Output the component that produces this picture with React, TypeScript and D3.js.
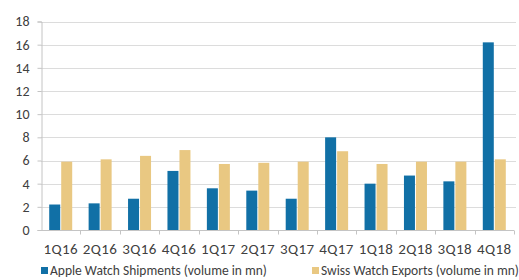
import { useEffect, useRef } from "react";
import * as d3 from "d3";

const quarters = ["1Q16", "2Q16", "3Q16", "4Q16", "1Q17", "2Q17", "3Q17", "4Q17", "1Q18", "2Q18", "3Q18", "4Q18"];
const appleShipments = [2.2, 2.3, 2.7, 5.1, 3.6, 3.4, 2.7, 8.0, 4.0, 4.7, 4.2, 16.2];
const swissExports = [5.9, 6.1, 6.4, 6.9, 5.7, 5.8, 5.9, 6.8, 5.7, 5.9, 5.9, 6.1];
const yTicks = [0, 2, 4, 6, 8, 10, 12, 14, 16, 18];
const seriesNames = ["Apple Watch Shipments (volume in mn)", "Swiss Watch Exports (volume in mn)"];

const BLUE = "#1170a6";
const GOLD = "#e9c882";
const FONT = "Carlito, 'Liberation Sans', Arial, sans-serif";

export default function App() {
  const svgRef = useRef<SVGSVGElement>(null);

  useEffect(() => {
    if (!svgRef.current) return;
    const svg = d3.select(svgRef.current);
    svg.selectAll("*").remove();

    const left = 41, right = 514, top = 21.5, bottom = 230;

    const x = d3.scaleBand().domain(quarters).range([left, right]).padding(0);
    const y = d3.scaleLinear().domain([0, 18]).range([bottom, top]);

    // gridlines
    svg.append("g")
      .selectAll("line")
      .data(yTicks.filter(t => t > 0))
      .enter()
      .append("line")
      .attr("x1", left)
      .attr("x2", 516)
      .attr("y1", d => Math.round(y(d)) + 0.5)
      .attr("y2", d => Math.round(y(d)) + 0.5)
      .attr("stroke", "#dcdcdc")
      .attr("stroke-width", 1);

    // y axis
    const yAxis = svg.append("g")
      .attr("transform", `translate(${left + 0.5},0)`)
      .call(d3.axisLeft(y).tickValues(yTicks).tickSize(4).tickPadding(8).tickFormat(d3.format("d")));
    yAxis.select(".domain").attr("stroke", "#c4c4c4");
    yAxis.selectAll(".tick line").attr("stroke", "#c4c4c4");
    yAxis.selectAll("text")
      .style("font-family", FONT)
      .style("font-size", "14px")
      .attr("fill", "#404040");

    const barW = 11;
    const gap = 1;
    const off = (x.bandwidth() - (barW * 2 + gap)) / 2;

    svg.append("g")
      .selectAll("rect")
      .data(quarters)
      .enter()
      .append("rect")
      .attr("x", d => (x(d) || 0) + off)
      .attr("width", barW)
      .attr("y", (d, i) => y(appleShipments[i]))
      .attr("height", (d, i) => bottom - y(appleShipments[i]))
      .attr("fill", BLUE);

    svg.append("g")
      .selectAll("rect")
      .data(quarters)
      .enter()
      .append("rect")
      .attr("x", d => (x(d) || 0) + off + barW + gap)
      .attr("width", barW)
      .attr("y", (d, i) => y(swissExports[i]))
      .attr("height", (d, i) => bottom - y(swissExports[i]))
      .attr("fill", GOLD);

    // x axis
    const xAxisG = svg.append("g").attr("transform", `translate(0,${bottom + 0.5})`);
    xAxisG.append("line")
      .attr("x1", left).attr("x2", right)
      .attr("stroke", "#c4c4c4");
    xAxisG.selectAll(".tk")
      .data(quarters.slice(1).concat(["end"]))
      .enter()
      .append("line")
      .attr("class", "tk")
      .attr("x1", (d, i) => Math.round(left + x.step() * (i + 1)) + 0.5)
      .attr("x2", (d, i) => Math.round(left + x.step() * (i + 1)) + 0.5)
      .attr("y1", 0)
      .attr("y2", 4)
      .attr("stroke", "#c4c4c4");
    xAxisG.selectAll(".lbl")
      .data(quarters)
      .enter()
      .append("text")
      .attr("class", "lbl")
      .attr("x", d => (x(d) || 0) + x.bandwidth() / 2)
      .attr("y", 23)
      .attr("text-anchor", "middle")
      .style("font-family", FONT)
      .style("font-size", "15px")
      .style("letter-spacing", "0.4px")
      .attr("fill", "#404040")
      .text(d => d);

    // legend
    const legendX = [41, 312];
    const legendColors = [BLUE, GOLD];
    const lg = svg.append("g");
    seriesNames.forEach((name, i) => {
      lg.append("rect")
        .attr("x", legendX[i])
        .attr("y", 267)
        .attr("width", 7)
        .attr("height", 7)
        .attr("fill", legendColors[i]);
      lg.append("text")
        .attr("x", legendX[i] + 9)
        .attr("y", 275)
        .style("font-family", FONT)
        .style("font-size", "13.5px")
        .attr("fill", "#404040")
        .text(name);
    });
  }, []);

  return (
    <div style={{ position: "fixed", left: 0, top: 0, background: "#fff" }}>
      <svg ref={svgRef} width={519} height={280} style={{ display: "block" }} />
    </div>
  );
}
